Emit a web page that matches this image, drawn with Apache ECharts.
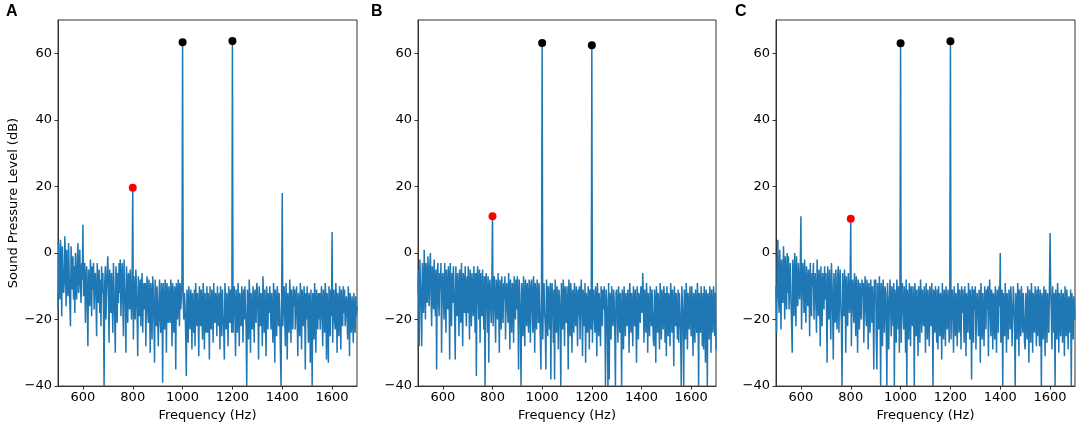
<!DOCTYPE html>
<html>
<head>
<meta charset="utf-8">
<script src="https://cdn.jsdelivr.net/npm/echarts@6/dist/echarts.min.js"></script>
<style>
html,body{margin:0;padding:0;background:#fff;}
#chart{width:1084px;height:427px;}
</style>
</head>
<body>
<div id="chart"></div>
<script>
// Sampling grid of the spectra (Hz)
const freqStart = 500;
const freqStep = 2.5;

const panelLabels = ['A', 'B', 'C'];
const xTicks = [600, 800, 1000, 1200, 1400, 1600];
const yTicks = [-40, -20, 0, 20, 40, 60];

// Spectrum values (dB), one per 2.5 Hz from 500 to 1700 Hz (20 values per 50 Hz row)
const noiseA = [
 -17, 3, -8, -14, 4, -2, -19, 2, -6, -12, -9, 5, -3, -16, 1, -10, -13, 3, -7, -15,
 -22, 2, -5, -11, -1, -14, -4, -18, 0, -9, -14, -2, 3, -12, -6, 1, -10, -15, -3, -8,
 8.5, -13, -6, -3, -21, -9, -4, -16, -28, -5, -12, -16, -2, -8, -19, -4, -11, -3, -17, -7,
 -6, -14, -25, -3, -10, -15, -5, -18, -8, -22, -4, -12, -6, -17, -40, -9, -4, -20, -11, -5,
 -1, -13, -27, -5, -9, -18, -6, -14, -24, -3, -11, -19, -30, -4, -8, -21, -6, -15, -3, -12,
 -2, -19, -9, -3, -14, -25, -2, -10, -16, -30, -4, -12, -21, -6, -8, -17, -5, -13, -20, -7,
 19.6, -26, -7, -14, -20, -5, -11, -18, -31, -7, -13, -19, -8, -22, -10, -6, -24, -12, -9, -17,
 -9, -28, -13, -7, -17, -21, -8, -12, -30, -9, -15, -26, -7, -11, -20, -33, -8, -14, -22, -10,
 -10, -28, -15, -8, -20, -24, -9, -13, -39, -9, -17, -23, -8, -12, -30, -9, -14, -21, -10, -18,
 -21, -8, -13, -28, -9, -16, -24, -10, -12, -35, -9, -15, -20, -8, -11, -22, -9, -17, -14, -8,
 63.3, -14, -20, -12, -16, -25, -37, -11, -15, -27, -10, -18, -23, -11, -14, -29, -12, -19, -24, -11,
 -28, -9, -15, -22, -12, -18, -31, -10, -14, -22, -11, -17, -26, -9, -13, -29, -12, -20, -24, -10,
 -24, -12, -16, -32, -10, -19, -23, -11, -14, -27, -9, -17, -21, -12, -15, -25, -10, -18, -22, -12,
 -29, -10, -16, -25, -11, -19, -22, -32, -9, -14, -23, -12, -17, -28, -10, -15, -21, -11, -18, -24,
 63.7, -24, -14, -10, -19, -31, -11, -16, -24, -9, -13, -28, -12, -18, -22, -10, -15, -27, -11, -20,
 -10, -17, -23, -40, -11, -15, -26, -8, -14, -30, -12, -19, -23, -10, -16, -27, -11, -13, -21, -9,
 -11, -18, -32, -10, -14, -22, -12, -17, -28, -7, -13, -24, -11, -19, -31, -10, -15, -23, -12, -18,
 -10, -16, -23, -12, -19, -27, -9, -14, -33, -11, -17, -25, -10, -13, -22, -12, -18, -29, -40, -13,
 18, -22, -14, -10, -19, -28, -9, -15, -32, -12, -17, -24, -8, -13, -27, -11, -18, -23, -10, -16,
 -11, -23, -15, -10, -19, -31, -12, -16, -25, -9, -14, -29, -11, -18, -22, -10, -15, -35, -12, -20,
 -10, -17, -27, -12, -15, -33, -11, -19, -40, -12, -14, -26, -9, -18, -30, -11, -16, -23, -12, -20,
 -12, -23, -15, -10, -19, -28, -11, -16, -24, -9, -13, -32, -12, -18, -33, -10, -15, -25, -11, -19,
 6.3, -27, -16, -11, -20, -23, -9, -14, -30, -12, -17, -25, -10, -15, -29, -11, -19, -22, -10, -18,
 -11, -22, -16, -13, -19, -26, -10, -15, -31, -12, -18, -24, -13, -17, -27, -12, -20, -24, -13, -19,
 -16
];
const noiseB = [
 -12, -5, -28, -2, -9, -16, -28, -3, -11, -18, 1, -7, -20, -3, -10, -15, -1, -8, -16, -4,
 0, -12, -22, -4, -9, -17, -2, -13, -19, -5, -35, -8, -3, -14, -19, -6, -11, -3, -30, -9,
 -6, -13, -20, -3, -10, -24, -5, -14, -17, -4, -9, -32, -3, -12, -22, -6, -15, -4, -10, -19,
 -32, -4, -11, -19, -6, -14, -25, -5, -9, -21, -3, -13, -28, -6, -10, -18, -4, -15, -22, -7,
 -18, -4, -12, -26, -5, -10, -22, -6, -14, -19, -4, -11, -24, -6, -37, -8, -4, -13, -20, -5,
 -27, -6, -12, -19, -5, -15, -23, -7, -40, -9, -6, -14, -24, -7, -33, -10, -8, -16, -21, -8,
 11, -22, -13, -7, -17, -27, -8, -12, -20, -6, -15, -30, -8, -11, -23, -7, -16, -21, -9, -14,
 -7, -26, -12, -9, -16, -21, -6, -13, -29, -8, -15, -24, -9, -11, -27, -7, -14, -20, -8, -17,
 -7, -16, -35, -8, -13, -22, -40, -9, -14, -25, -7, -17, -28, -8, -12, -22, -9, -15, -24, -8,
 -9, -27, -13, -8, -16, -24, -7, -12, -30, -9, -15, -23, -8, -14, -21, -9, -17, -25, -35, -8,
 63.1, -26, -14, -9, -18, -22, -35, -8, -13, -25, -10, -16, -23, -9, -38, -12, -9, -17, -27, -11,
 -38, -8, -15, -24, -10, -17, -29, -11, -13, -22, -40, -9, -16, -23, -8, -14, -28, -10, -18, -21,
 -10, -17, -35, -8, -13, -25, -9, -16, -30, -11, -14, -24, -9, -18, -22, -10, -15, -28, -11, -19,
 -10, -26, -14, -8, -17, -31, -11, -15, -22, -9, -33, -12, -16, -24, -10, -13, -29, -11, -18, -23,
 62.4, -27, -15, -11, -19, -24, -10, -14, -31, -9, -16, -25, -12, -18, -28, -10, -13, -22, -11, -17,
 -10, -18, -40, -11, -14, -23, -40, -9, -38, -12, -15, -26, -10, -17, -22, -11, -14, -24, -40, -12,
 -11, -17, -27, -10, -15, -24, -12, -19, -40, -11, -14, -29, -10, -16, -25, -12, -18, -22, -11, -15,
 -30, -9, -14, -24, -12, -17, -28, -10, -15, -22, -11, -19, -33, -10, -13, -26, -12, -16, -21, -10,
 -12, -18, -6, -14, -27, -11, -16, -24, -9, -13, -30, -12, -17, -25, -10, -15, -22, -11, -18, -26,
 -28, -11, -16, -33, -10, -14, -24, -12, -19, -29, -9, -15, -26, -11, -17, -23, -10, -14, -27, -12,
 -31, -10, -16, -25, -12, -18, -28, -9, -14, -24, -11, -17, -34, -10, -15, -22, -12, -19, -26, -11,
 -27, -12, -17, -23, -40, -10, -15, -22, -40, -11, -16, -26, -9, -14, -29, -12, -18, -23, -10, -16,
 -25, -10, -17, -31, -12, -15, -27, -11, -19, -24, -9, -14, -40, -12, -16, -24, -10, -18, -28, -12,
 -29, -10, -16, -33, -11, -14, -40, -12, -17, -26, -10, -15, -30, -11, -18, -24, -10, -14, -25, -12,
 -29
];
const noiseC = [
 -10, -24, -5, 4, -13, -18, 1, -8, -23, -2, -11, -15, 2, -6, -20, -1, -9, -17, 0, -12,
 -1, -17, -8, -3, -14, -21, -30, -2, -10, -19, 0, -7, -22, -1, -12, -16, -3, -9, -14, -5,
 11, -23, -12, -3, -9, -18, -2, -14, -21, -4, -11, -16, -5, -8, -25, -3, -13, -19, -6, -10,
 -3, -20, -11, -6, -15, -24, -2, -12, -19, -5, -9, -28, -4, -13, -22, -6, -10, -17, -4, -14,
 -6, -15, -33, -4, -11, -20, -5, -14, -26, -3, -9, -18, -32, -6, -12, -21, -5, -16, -23, -7,
 -4, -24, -10, -5, -16, -21, -40, -6, -13, -19, -5, -11, -30, -7, -15, -22, -6, -12, -18, -8,
 10.3, -28, -13, -8, -16, -21, -6, -12, -25, -7, -14, -30, -8, -11, -23, -9, -15, -20, -8, -13,
 -9, -27, -14, -7, -16, -22, -8, -12, -29, -9, -15, -24, -8, -13, -21, -10, -17, -35, -8, -14,
 -8, -26, -35, -9, -14, -23, -7, -16, -40, -9, -13, -28, -8, -15, -24, -10, -12, -22, -40, -9,
 -9, -29, -14, -8, -17, -25, -10, -13, -22, -9, -40, -11, -15, -27, -8, -14, -23, -10, -30, -12,
 63, -27, -14, -9, -17, -23, -10, -15, -30, -8, -40, -11, -16, -26, -9, -13, -28, -10, -18, -22,
 -10, -16, -40, -9, -14, -25, -11, -18, -31, -10, -15, -27, -8, -13, -24, -11, -17, -22, -10, -16,
 -30, -9, -15, -26, -11, -17, -28, -10, -14, -22, -9, -16, -40, -11, -13, -24, -10, -18, -27, -11,
 -29, -10, -16, -25, -12, -15, -32, -9, -18, -26, -11, -14, -28, -10, -17, -23, -11, -15, -27, -10,
 63.6, -26, -15, -11, -19, -30, -10, -14, -25, -12, -17, -28, -9, -13, -24, -11, -16, -29, -10, -18,
 -11, -17, -27, -10, -15, -31, -12, -18, -24, -9, -14, -26, -11, -16, -38, -10, -13, -27, -11, -17,
 -10, -29, -15, -12, -18, -25, -11, -14, -33, -9, -16, -26, -12, -19, -28, -10, -15, -23, -11, -17,
 -10, -31, -15, -8, -17, -25, -11, -14, -29, -12, -16, -26, -10, -18, -30, -11, -13, -24, -10, -16,
 0, -27, -14, -11, -40, -12, -17, -25, -9, -15, -30, -12, -18, -26, -11, -14, -23, -10, -16, -28,
 -28, -10, -15, -22, -40, -12, -17, -26, -9, -14, -31, -11, -18, -25, -10, -16, -24, -12, -19, -27,
 -29, -12, -16, -26, -10, -18, -33, -11, -15, -27, -9, -14, -30, -12, -17, -24, -10, -16, -28, -11,
 -25, -10, -17, -28, -11, -15, -40, -12, -18, -26, -10, -14, -31, -11, -16, -27, -12, -19, -24, -10,
 6, -11, -18, -29, -10, -15, -24, -12, -40, -11, -16, -26, -9, -14, -30, -12, -17, -25, -11, -15,
 -27, -12, -16, -31, -10, -14, -25, -11, -18, -29, -13, -15, -24, -11, -40, -12, -17, -26, -13, -16,
 -20
];

// Marked peaks: 800 Hz (distortion product), 1000 and 1200 Hz (primaries)
const peakFreqs = [800, 1000, 1200];
const peaksA = [19.6, 63.3, 63.7];
const peaksB = [11, 63.1, 62.4];
const peaksC = [10.3, 63, 63.6];

const noiseSets = [noiseA, noiseB, noiseC];
const peakSets = [peaksA, peaksB, peaksC];

const FONT = 'DejaVu Sans';
const gridLefts = [58, 418, 776];
const gridWidths = [299, 298, 299];
const titleLefts = [6, 371, 735];
const peakColors = ['#ff0000', '#000000', '#000000'];
const minus = v => String(v).replace('-', '\u2212');

const grids = [], xAxes = [], yAxes = [], series = [], titles = [];
for (let p = 0; p < 3; p++) {
  grids.push({left: gridLefts[p], top: 20, width: gridWidths[p], height: 367,
    show: true, borderColor: '#333', borderWidth: 1, containLabel: false});
  titles.push({text: panelLabels[p], left: titleLefts[p], top: 4, padding: 0,
    textStyle: {fontFamily: 'Liberation Sans', fontWeight: 'bold', fontSize: 16, color: '#000'}});
  xAxes.push({type: 'value', gridIndex: p, min: 500, max: 1700,
    name: 'Frequency (Hz)', nameLocation: 'middle', nameGap: 21,
    nameTextStyle: {fontFamily: FONT, fontSize: 13, color: '#000'},
    axisLine: {show: true, onZero: false, lineStyle: {color: '#333', width: 1}},
    axisTick: {show: true, length: 3.5, lineStyle: {color: '#333'}, customValues: xTicks},
    axisLabel: {fontFamily: FONT, fontSize: 13, color: '#000', margin: 5, customValues: xTicks, formatter: v => minus(v)},
    splitLine: {show: false}});
  yAxes.push({type: 'value', gridIndex: p, min: -40, max: 70,
    name: p === 0 ? 'Sound Pressure Level (dB)' : '', nameLocation: 'middle', nameGap: 38,
    nameTextStyle: {fontFamily: FONT, fontSize: 13, color: '#000'},
    axisLine: {show: true, onZero: false, lineStyle: {color: '#333', width: 1}},
    axisTick: {show: true, length: 3.5, lineStyle: {color: '#333'}, customValues: yTicks},
    axisLabel: {fontFamily: FONT, fontSize: 13, color: '#000', margin: 6, customValues: yTicks, formatter: v => minus(v)},
    splitLine: {show: false}});
  const noise = noiseSets[p];
  series.push({type: 'line', xAxisIndex: p, yAxisIndex: p,
    data: noise.map((v, i) => [freqStart + i * freqStep, v]),
    showSymbol: false, symbol: 'none', clip: true,
    lineStyle: {color: '#1f77b4', width: 1.5}, z: 2, silent: true});
  series.push({type: 'scatter', xAxisIndex: p, yAxisIndex: p,
    data: peakFreqs.map((f, i) => ({value: [f, peakSets[p][i]], itemStyle: {color: peakColors[i], opacity: 1}})),
    symbolSize: 8, z: 5, silent: true});
}

const chart = echarts.init(document.getElementById('chart'), null, {renderer: 'canvas'});
chart.setOption({
  animation: false,
  backgroundColor: '#fff',
  title: titles,
  grid: grids,
  xAxis: xAxes,
  yAxis: yAxes,
  series: series
});
</script>
</body>
</html>
